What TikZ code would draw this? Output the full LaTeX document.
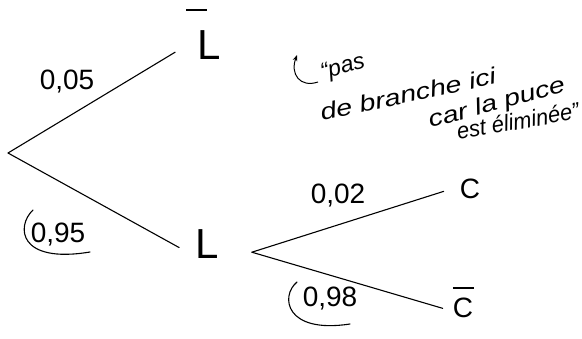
\documentclass[tikz,border=0pt]{standalone}
\usepackage{graphicx}
\usepackage{fontspec}
\setmainfont{Liberation Sans}
\usetikzlibrary{arrows.meta}
\newcommand{\barred}[3]{\rlap{\hspace{#2}\raisebox{#3}{\rule{21pt}{1.6pt}}}#1}
\begin{document}
\begin{tikzpicture}[x=1pt,y=-1pt,
  branch/.style={line width=1.1pt, line cap=round},
  big/.style={font=\fontsize{42}{42}\selectfont, inner sep=0pt, anchor=base},
  mid/.style={font=\fontsize{28}{28}\selectfont, inner sep=0pt, anchor=base},
  prob/.style={font=\fontsize{28}{28}\selectfont, inner sep=1pt},
  note/.style={font=\fontsize{23}{23}\selectfont\itshape, inner sep=0pt},
  ring/.style={line width=1.1pt, line cap=round}]
\useasboundingbox (0,0) rectangle (582,338);
\coordinate (root) at (8,153);
\node[big] (Lb) at (209,59) {\barred{L}{-11pt}{48pt}};
\node[big] (L) at (207,258) {L};
\node[mid] (C) at (470,198) {C};
\node[mid] (Cb) at (463,317) {\barred{C}{0pt}{28pt}};
\draw[branch] (root) -- ([xshift=-22pt,yshift=7pt]Lb.south west);
\draw[branch] (root) -- ([xshift=-16pt,yshift=-4pt]L.west);
\draw[branch] ([xshift=33pt,yshift=6pt]L.south east) -- ([xshift=-16pt,yshift=-3pt]C.west);
\draw[branch] ([xshift=33pt,yshift=6pt]L.south east) -- ([xshift=-10pt,yshift=-6pt]Cb.west);
\node[prob] (p1) at (67,82) {0,05};
\node[prob] (p2) at (58,235) {0,95};
\node[prob] (p3) at (338,196) {0,02};
\node[prob] (p4) at (330,299) {0,98};
\draw[ring] (33,210) .. controls (16,226) and (18,264) .. (90,252);
\draw[ring] (297,282) .. controls (280,296) and (285,334) .. (350,324);
\draw[line width=1pt, -{Stealth[length=6pt]}] (318,82) .. controls (300,88) and (290,74) .. (297,55);
\node[note, rotate=15] (n1) at (343,68) {``pas};
\node[note, rotate=12] (n2) at (408,94) {\scalebox{1.25}[1]{de branche ici}};
\node[note, rotate=15] (n3) at (497,104) {\scalebox{1.25}[1]{car la puce}};
\node[note, rotate=10] (n4) at (518,121) {\scalebox{0.95}[1]{est éliminée''}};
\end{tikzpicture}
\end{document}
